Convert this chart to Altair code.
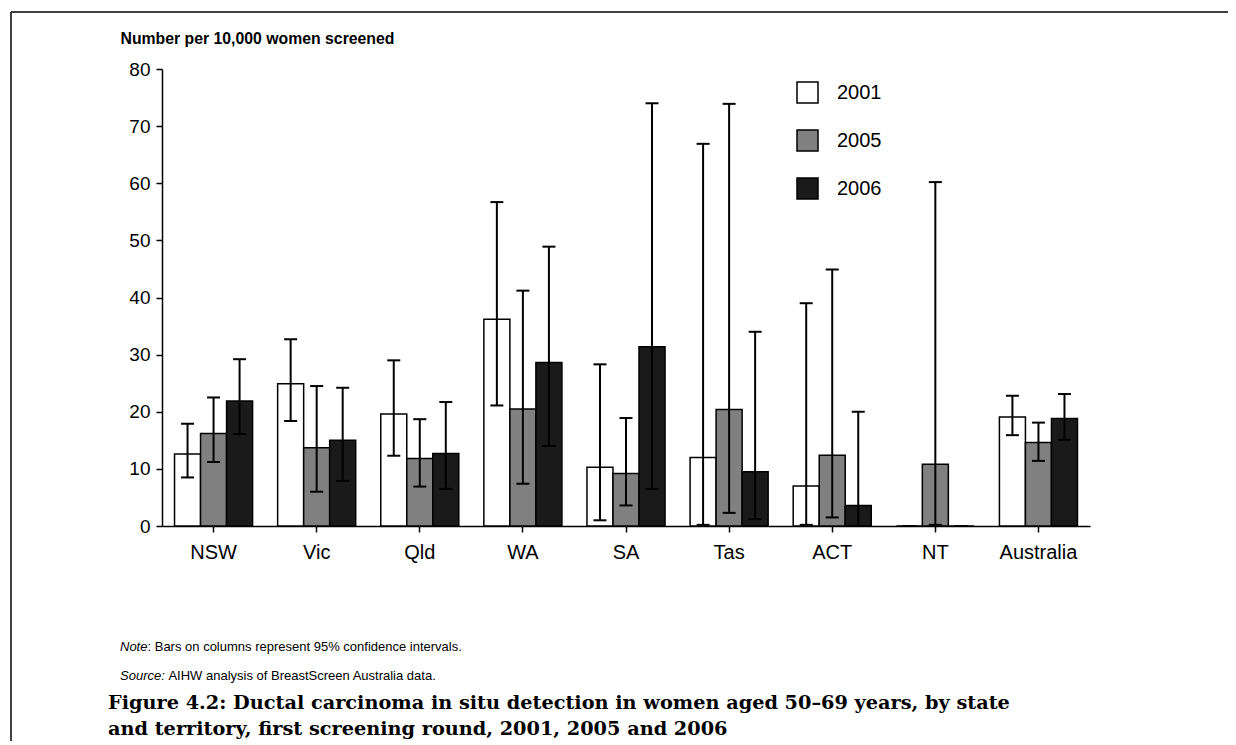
import altair as alt
import pandas as pd

states = ["NSW", "Vic", "Qld", "WA", "SA", "Tas", "ACT", "NT", "Australia"]
years = ["2001", "2005", "2006"]

rate_2001 = [12.6, 24.9, 19.6, 36.2, 10.3, 12.0, 7.0, 0.0, 19.1]
lo_2001 = [8.5, 18.4, 12.3, 21.1, 1.0, 0.2, 0.2, 0.0, 15.9]
hi_2001 = [17.9, 32.7, 29.0, 56.7, 28.3, 66.9, 39.0, 0.0, 22.8]

rate_2005 = [16.2, 13.7, 11.8, 20.5, 9.2, 20.4, 12.4, 10.8, 14.6]
lo_2005 = [11.2, 6.0, 6.9, 7.4, 3.6, 2.3, 1.5, 0.2, 11.4]
hi_2005 = [22.5, 24.5, 18.7, 41.2, 18.9, 73.9, 44.9, 60.2, 18.1]

rate_2006 = [21.9, 15.0, 12.7, 28.6, 31.4, 9.5, 3.6, 0.0, 18.8]
lo_2006 = [16.1, 7.9, 6.5, 14.0, 6.5, 1.2, 0.0, 0.0, 15.1]
hi_2006 = [29.2, 24.2, 21.7, 48.9, 74.0, 34.0, 20.0, 0.0, 23.1]

colors = ["#ffffff", "#808080", "#1a1a1a"]

y_title = "Number per 10,000 women screened"
note_label = "Note"
note_text = ": Bars on columns represent 95% confidence intervals."
source_label = "Source:"
source_text = "AIHW analysis of BreastScreen Australia data."
caption_1 = "Figure 4.2: Ductal carcinoma in situ detection in women aged 50\u201369 years, by state"
caption_2 = "and territory, first screening round, 2001, 2005 and 2006"

rows = []
for yr, rs, ls, hs in zip(years,
                          [rate_2001, rate_2005, rate_2006],
                          [lo_2001, lo_2005, lo_2006],
                          [hi_2001, hi_2005, hi_2006]):
    for s, v, l, h in zip(states, rs, ls, hs):
        rows.append({"state": s, "year": yr, "rate": v, "lo": l, "hi": h})
df = pd.DataFrame(rows)
one = pd.DataFrame({"k": [0]})

FONT = "Liberation Sans"

x_enc = alt.X(
    "state:N", sort=states,
    scale=alt.Scale(paddingInner=0.243, paddingOuter=0.1215),
    axis=alt.Axis(title=None, labelAngle=0, labelFontSize=20, labelPadding=10,
                  tickSize=6, labelFont=FONT),
)
xo_enc = alt.XOffset("year:N", sort=years,
                     scale=alt.Scale(paddingInner=0, paddingOuter=0))


def y_enc(field):
    return alt.Y(
        f"{field}:Q",
        scale=alt.Scale(domain=[0, 80], nice=False, zero=True),
        axis=alt.Axis(values=list(range(0, 81, 10)), title=y_title,
                      titleAngle=0, titleX=-42, titleY=-26, titleAlign="left",
                      titleBaseline="alphabetic", titleFontSize=15.8,
                      titleFontWeight="bold", titleFont=FONT,
                      labelFontSize=19, labelPadding=6, tickSize=6,
                      labelFont=FONT, grid=False),
    )


bars = alt.Chart(df).mark_bar(stroke="black", strokeWidth=1.5, opacity=1).encode(
    x=x_enc, xOffset=xo_enc, y=y_enc("rate"),
    fill=alt.Fill("year:N", sort=years,
                  scale=alt.Scale(domain=years, range=colors),
                  legend=alt.Legend(title=None, orient="none", legendX=634,
                                    legendY=12, symbolType="square",
                                    symbolSize=441, symbolStrokeColor="black",
                                    symbolStrokeWidth=1.5, symbolOpacity=1,
                                    labelFontSize=20, labelFont=FONT,
                                    labelColor="black", labelOffset=18,
                                    rowPadding=21, padding=0)),
)

whiskers = alt.Chart(df).mark_rule(color="black", strokeWidth=2).encode(
    x=x_enc, xOffset=xo_enc, y=y_enc("lo"), y2="hi:Q",
)
cap_lo = alt.Chart(df).mark_tick(color="black", thickness=2, size=13, opacity=1).encode(
    x=x_enc, xOffset=xo_enc, y=y_enc("lo"),
)
cap_hi = alt.Chart(df).mark_tick(color="black", thickness=2, size=13, opacity=1).encode(
    x=x_enc, xOffset=xo_enc, y=y_enc("hi"),
)


def txt(s, xpx, ypx, size, weight="normal", style="normal", font=FONT):
    return alt.Chart(one).mark_text(
        text=s, align="left", baseline="alphabetic", fontSize=size,
        fontWeight=weight, fontStyle=style, font=font, color="black",
    ).encode(x=alt.value(xpx), y=alt.value(ypx))


texts = [
    txt(note_label, -42, 582, 13, style="italic"),
    txt(note_text, -14.5, 582, 13),
    txt(source_label, -42, 611, 13, style="italic"),
    txt(source_text, 6.4, 611, 13),
    txt(caption_1, -54, 640, 19.3, weight="bold", font="DejaVu Serif"),
    txt(caption_2, -54, 666, 19.3, weight="bold", font="DejaVu Serif"),
]

frame_top = alt.Chart(one).mark_rule(color="black", strokeWidth=1.5).encode(
    x=alt.value(-151), x2=alt.value(1070), y=alt.value(-57))
frame_left = alt.Chart(one).mark_rule(color="black", strokeWidth=1.5).encode(
    x=alt.value(-151), y=alt.value(-57), y2=alt.value(690))

chart = alt.layer(bars, whiskers, cap_lo, cap_hi, *texts, frame_top, frame_left).properties(
    width=928, height=457,
    autosize=alt.AutoSizeParams(type="none"),
    padding={"left": 154, "top": 61, "right": 138, "bottom": 215},
).configure_view(stroke=None).configure_axis(
    domainColor="black", domainWidth=1.5, tickColor="black", tickWidth=1.5,
    labelColor="black", titleColor="black",
)

chart.save("out.html", embed_options={"renderer": "svg", "actions": False})
